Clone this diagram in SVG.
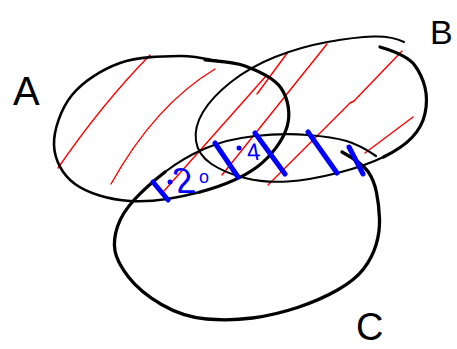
<svg xmlns="http://www.w3.org/2000/svg" width="457" height="349" viewBox="0 0 457 349">
<style>
.ol{fill:none;stroke:#000;stroke-linecap:round;stroke-linejoin:round}
.rd{fill:none;stroke:#ff0000;stroke-width:1.4;stroke-linecap:round;stroke-linejoin:round}
.bl{fill:none;stroke:#0000ff;stroke-width:5;stroke-linecap:round}
.lbl{font-family:"Liberation Sans",Arial,sans-serif;fill:#000}
.bt{font-family:"Liberation Sans",Arial,sans-serif;fill:#0000ff}
</style>
<rect width="457" height="349" fill="#fff"/>
<g id="hatching-red">
<path class="rd" d="M150,55 Q102,104 58,168"/>
<path class="rd" d="M215,69 Q155,105 111,184"/>
<path class="rd" d="M266,76 L164,191"/>
<path class="rd" d="M288,52 L257,94"/>
<path class="rd" d="M327,44 L222,175"/>
<path class="rd" d="M402,51 L354,101 L350,103 L343,110 L268,185"/>
<path class="rd" d="M413,117 L365,153"/>
</g>
<g id="circle-A">
<path class="ol" stroke-width="2.6" d="M222,62 C212,60.3 197,55.8 180,56 C163,56.2 138,56.5 120,63 C102,69.5 83,81.3 72,95 C61,108.7 53.5,130.2 54,145 C54.5,159.8 62.3,174.7 75,184 C87.7,193.3 109.2,199.7 130,201 C150.8,202.3 178.8,197.7 200,192"/>
<path class="ol" stroke-width="3.2" d="M200,192 C221.2,186.3 242.5,177.8 257,167 C271.5,156.2 283,140.2 287,127 C291,113.8 288,98.2 281,88 C274,77.8 257.7,70.7 245,66 C232.3,61.3 214,61 205,60"/>
</g>
<g id="circle-B">
<path class="ol" stroke-width="3.2" d="M380,47 Q407,55 414.5,65 Q422,75 425,87.5 Q428,100 425,113.5 Q422,127 412,137.5 Q402,148 383.5,157"/>
<path class="ol" stroke-width="2" d="M383.5,157 Q365,166 337.5,173 Q310,180 287.5,181.5 Q265,183 245,178 Q225,173 211.5,164 Q198,155 196,141 Q194,127 203,112 Q212,97 231,82 Q250,67 275,57 Q300,47 327.5,42 Q355,37 373.5,36.5 Q392,36 404,42"/>
</g>
<g id="circle-C">
<path class="ol" stroke-width="3.3" d="M342,152 Q362,163 368,171.5 Q374,180 376.5,192.5 Q379,205 379.5,218.5 Q380,232 376,245 Q372,258 363.5,269 Q355,280 337.5,290 Q320,300 297.5,307.5 Q275,315 252.5,318 Q230,321 206.5,319 Q183,317 161.5,304.5 Q140,292 128.5,277 Q117,262 115,251 Q113,240 117.5,226.5 Q122,213 134.5,199.5 Q147,186 165,172"/>
<path class="ol" stroke-width="2.2" d="M165,172 Q183,158 205,148.5 Q227,139 255,136 Q283,133 308,135 Q333,137 346.5,141 Q360,145 376,156"/>
</g>
<g id="hatching-blue">
<path class="bl" d="M153,182 L168,200"/>
<path class="bl" d="M215,143 L238,177"/>
<path class="bl" d="M255,133 L285,174"/>
<path class="bl" d="M308,132 L337,173"/>
<path class="bl" d="M349,147 L363,174"/>
<circle cx="170" cy="182" r="2.5" fill="#0000ff"/>
<circle cx="239" cy="148" r="2.5" fill="#0000ff"/>
<text class="bt" font-size="36" transform="translate(177,193) skewX(15)">2</text>
<text class="bt" font-size="18" x="199" y="183">o</text>
<text class="bt" font-size="24" transform="translate(248,160) skewX(10)">4</text>
</g>
<g id="label-A"><text class="lbl" font-size="40" x="13" y="105">A</text></g>
<g id="label-B"><text class="lbl" font-size="34" x="430" y="44">B</text></g>
<g id="label-C"><text class="lbl" font-size="38" x="356" y="340">C</text></g>
</svg>
